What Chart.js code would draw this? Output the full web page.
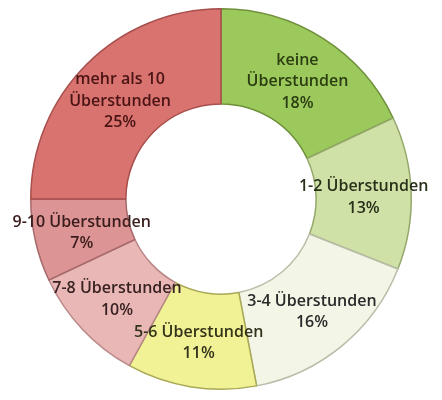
<!DOCTYPE html>
<html>
<head>
<meta charset="utf-8">
<script src="https://cdn.jsdelivr.net/npm/chart.js@4/dist/chart.umd.min.js"></script>
<style>
  html, body { margin: 0; padding: 0; background: #fff; }
  #wrap { width: 442px; height: 400px; position: relative; }
</style>
</head>
<body>
<div id="wrap"><canvas id="chart"></canvas></div>
<script>
// Overtime categories, clockwise from 12 o'clock
const categories = [
    ['keine', 'Überstunden'],
    ['1-2 Überstunden'],
    ['3-4 Überstunden'],
    ['5-6 Überstunden'],
    ['7-8 Überstunden'],
    ['9-10 Überstunden'],
    ['mehr als 10', 'Überstunden']
];
const shares = [18, 13, 16, 11, 10, 7, 25];
const fillColors = ['#9bc95c', '#cfe1a7', '#f3f5e7', '#f1f195', '#e9b7b6', '#dc9494', '#d8736f'];
const edgeColors = ['#6f8f3a', '#94a86a', '#b9bca6', '#a9a857', '#b98787', '#a86a6a', '#a64f4c'];
const textColors = ['#2c3d12', '#26301a', '#2a2a2a', '#33331a', '#382222', '#3a1c1c', '#4a1414'];

// draws the category + percent text at the middle of each ring piece
const sliceLabels = {
    id: 'sliceLabels',
    afterDatasetsDraw(chart) {
        const ctx = chart.ctx;
        const meta = chart.getDatasetMeta(0);
        ctx.save();
        ctx.font = '600 16px "Open Sans", sans-serif';
        ctx.textAlign = 'center';
        ctx.textBaseline = 'middle';
        meta.data.forEach((arc, i) => {
            const pos = arc.tooltipPosition();
            const lines = categories[i].concat([shares[i] + '%']);
            const lineH = 21.5;
            const top = pos.y + 3 - (lines.length - 1) * lineH / 2;
            ctx.fillStyle = textColors[i];
            lines.forEach((txt, j) => {
                ctx.fillText(txt, pos.x, top + j * lineH);
            });
        });
        ctx.restore();
    }
};

new Chart(document.getElementById('chart'), {
    type: 'doughnut',
    data: {
        labels: categories.map(c => c.join(' ')),
        datasets: [{
            data: shares,
            backgroundColor: fillColors,
            borderColor: edgeColors,
            borderWidth: 1.5
        }]
    },
    options: {
        responsive: true,
        maintainAspectRatio: false,
        animation: false,
        cutout: '50%',
        layout: { padding: { top: 8, bottom: 10, left: 0, right: 0 } },
        plugins: {
            legend: { display: false },
            tooltip: { enabled: false }
        }
    },
    plugins: [sliceLabels]
});
</script>
</body>
</html>
